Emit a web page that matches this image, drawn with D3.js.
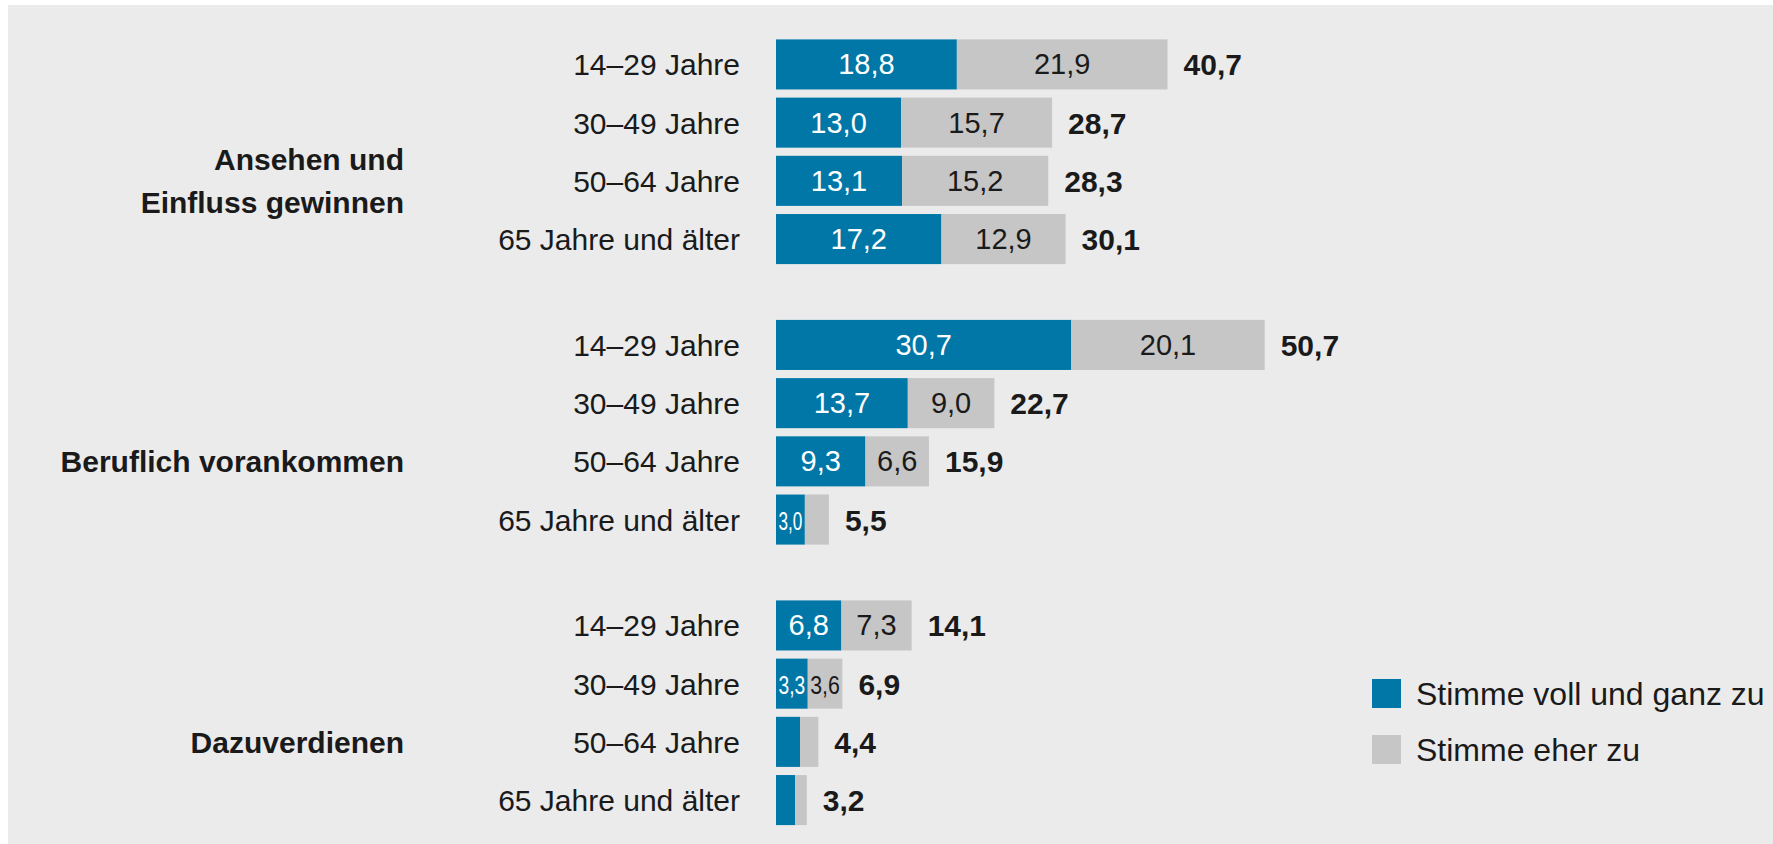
<!DOCTYPE html>
<html lang="de">
<head>
<meta charset="utf-8">
<title>Motive nach Altersgruppen</title>
<script src="https://cdn.jsdelivr.net/npm/d3@7"></script>
<style>
  body { margin: 0; background: #fff; }
  svg text { font-family: "Liberation Sans", Arial, sans-serif; fill: #1a1a1a; }
  .age-label { font-size: 30px; text-anchor: end; }
  .group-label { font-size: 30px; font-weight: bold; text-anchor: end; }
  .seg-label { font-size: 29px; text-anchor: middle; }
  .total-label { font-size: 30px; font-weight: bold; }
  .legend-label { font-size: 32px; }
</style>
</head>
<body>
<div id="chart-area"></div>
<script>
// Data
const groups = ["Ansehen und Einfluss gewinnen", "Beruflich vorankommen", "Dazuverdienen"];
const groupLines = [["Ansehen und", "Einfluss gewinnen"], ["Beruflich vorankommen"], ["Dazuverdienen"]];
const ages = ["14–29 Jahre", "30–49 Jahre", "50–64 Jahre", "65 Jahre und älter"];
const series = ["Stimme voll und ganz zu", "Stimme eher zu"];
// per group, per age group
const vollValues = [[18.8, 13.0, 13.1, 17.2], [30.7, 13.7, 9.3, 3.0], [6.8, 3.3, 2.5, 2.0]];
const eherValues = [[21.9, 15.7, 15.2, 12.9], [20.1, 9.0, 6.6, 2.5], [7.3, 3.6, 1.9, 1.2]];
const totals = [[40.7, 28.7, 28.3, 30.1], [50.7, 22.7, 15.9, 5.5], [14.1, 6.9, 4.4, 3.2]];

const colors = ["#0077a7", "#c6c6c6"];

const W = 1773, H = 844;
const de = d3.formatLocale({ decimal: ",", thousands: ".", grouping: [3], currency: ["", " €"] });
const fmt = de.format(".1f");

const rows = [];
groups.forEach((g, gi) => {
  ages.forEach((a, ai) => {
    rows.push({ group: g, age: a, voll: vollValues[gi][ai], eher: eherValues[gi][ai], total: totals[gi][ai] });
  });
});

const svg = d3.select("#chart-area").append("svg")
  .attr("width", W).attr("height", H);

// panel background
svg.append("rect")
  .attr("x", 8).attr("y", 5)
  .attr("width", W - 8).attr("height", H - 5)
  .attr("fill", "#ebebeb");

// Scales
const yGroup = d3.scaleBand().domain(groups).range([39.4, 825.1]).paddingInner(0.199);
const yAge = d3.scaleBand().domain(ages).range([0, yGroup.bandwidth()]).paddingInner(0.14);
const x = d3.scaleLinear().domain([0, 50]).range([776, 776 + 481]);

const rowY = d => yGroup(d.group) + yAge(d.age);
const bh = yAge.bandwidth();

// Bars
const rowG = svg.selectAll(".row").data(rows).enter().append("g")
  .attr("class", "row")
  .attr("transform", d => `translate(0,${rowY(d)})`);

rowG.append("rect")
  .attr("x", x(0)).attr("y", 0)
  .attr("width", d => x(d.voll) - x(0)).attr("height", bh)
  .attr("fill", colors[0]);

rowG.append("rect")
  .attr("x", d => x(d.voll)).attr("y", 0)
  .attr("width", d => x(d.voll + d.eher) - x(d.voll)).attr("height", bh)
  .attr("fill", colors[1]);

// segment label centred at cx; squeezed horizontally if wider than the segment
function segLabel(sel, cx, segW, fill) {
  sel.append("text")
    .attr("class", "seg-label")
    .attr("transform", d => `translate(${cx(d)},${bh / 2 + 10})`)
    .style("fill", fill)
    .text(d => fmt(d.value))
    .each(function (d) {
      const w = segW(d) - 5;
      const len = this.getComputedTextLength();
      if (len <= w) return;
      d3.select(this).style("font-size", "26px");
      const sx = w / this.getComputedTextLength();
      d3.select(this).attr("transform", `translate(${cx(d)},${bh / 2 + 10}) scale(${sx},1)`);
    });
}

segLabel(rowG.filter(d => d.voll >= 3).datum(d => Object.assign({}, d, { value: d.voll })),
  d => (x(0) + x(d.voll)) / 2, d => x(d.voll) - x(0), "#fff");
segLabel(rowG.filter(d => d.eher >= 3).datum(d => Object.assign({}, d, { value: d.eher })),
  d => (x(d.voll) + x(d.voll + d.eher)) / 2, d => x(d.voll + d.eher) - x(d.voll), "#1a1a1a");

// totals
rowG.append("text")
  .attr("class", "total-label")
  .attr("x", d => x(d.voll + d.eher) + 16)
  .attr("y", bh / 2 + 11)
  .text(d => fmt(d.total));

// age labels
rowG.append("text")
  .attr("class", "age-label")
  .attr("x", 740)
  .attr("y", bh / 2 + 11)
  .text(d => d.age);

// group labels, aligned with third row
const lineH = 43;
groups.forEach((g, gi) => {
  const c = yGroup(g) + yAge(ages[2]) + bh / 2;
  const lines = groupLines[gi];
  const t = svg.append("text").attr("class", "group-label");
  lines.forEach((l, li) => {
    t.append("tspan")
      .attr("x", 404)
      .attr("y", c + 11 + (li - (lines.length - 1) / 2) * lineH)
      .text(l);
  });
});

// Legend
const legend = svg.selectAll(".legend").data(series).enter().append("g")
  .attr("class", "legend")
  .attr("transform", (d, i) => `translate(1372,${679 + i * 56})`);

legend.append("rect")
  .attr("width", 29).attr("height", 29)
  .attr("fill", (d, i) => colors[i]);

legend.append("text")
  .attr("class", "legend-label")
  .attr("x", 44).attr("y", 26)
  .text(d => d);
</script>
</body>
</html>
